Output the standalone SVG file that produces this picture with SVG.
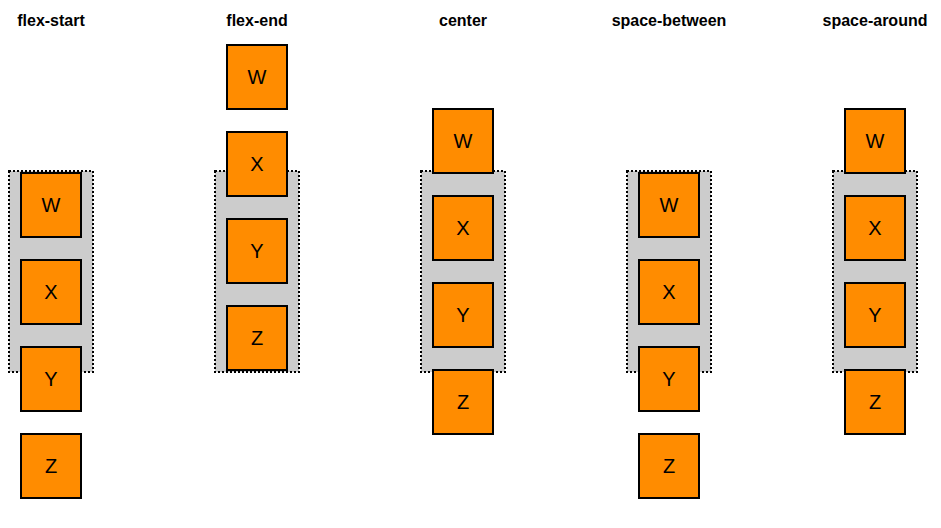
<svg xmlns="http://www.w3.org/2000/svg" width="941" height="528" viewBox="0 0 941 528">
<style>
.title{font-family:"Liberation Sans",Arial,sans-serif;font-size:16px;font-weight:bold;fill:#000;text-anchor:middle}
.cont{fill:#cccccc;stroke:#000;stroke-width:2;stroke-dasharray:2,2}
.box{fill:#ff8c00;stroke:#000;stroke-width:2}
.lbl{font-family:"Liberation Sans",Arial,sans-serif;font-size:20px;fill:#000;text-anchor:middle}
</style>
<rect width="941" height="528" fill="#fff"/>
<g id="connectors"></g>
<g id="col-flex-start">
<text class="title" x="51" y="26">flex-start</text>
<rect class="cont" x="9" y="171" width="84" height="201"/>
<g id="fs-W"><rect class="box" x="21" y="173" width="60" height="64"/><text class="lbl" x="51" y="212">W</text></g>
<g id="fs-X"><rect class="box" x="21" y="260" width="60" height="64"/><text class="lbl" x="51" y="299">X</text></g>
<g id="fs-Y"><rect class="box" x="21" y="347" width="60" height="64"/><text class="lbl" x="51" y="386">Y</text></g>
<g id="fs-Z"><rect class="box" x="21" y="434" width="60" height="64"/><text class="lbl" x="51" y="473">Z</text></g>
</g>
<g id="col-flex-end">
<text class="title" x="257" y="26">flex-end</text>
<rect class="cont" x="215" y="171" width="84" height="201"/>
<g id="fe-W"><rect class="box" x="227" y="45" width="60" height="64"/><text class="lbl" x="257" y="84">W</text></g>
<g id="fe-X"><rect class="box" x="227" y="132" width="60" height="64"/><text class="lbl" x="257" y="171">X</text></g>
<g id="fe-Y"><rect class="box" x="227" y="219" width="60" height="64"/><text class="lbl" x="257" y="258">Y</text></g>
<g id="fe-Z"><rect class="box" x="227" y="306" width="60" height="64"/><text class="lbl" x="257" y="345">Z</text></g>
</g>
<g id="col-center">
<text class="title" x="463" y="26">center</text>
<rect class="cont" x="421" y="171" width="84" height="201"/>
<g id="c-W"><rect class="box" x="433" y="109" width="60" height="64"/><text class="lbl" x="463" y="148">W</text></g>
<g id="c-X"><rect class="box" x="433" y="196" width="60" height="64"/><text class="lbl" x="463" y="235">X</text></g>
<g id="c-Y"><rect class="box" x="433" y="283" width="60" height="64"/><text class="lbl" x="463" y="322">Y</text></g>
<g id="c-Z"><rect class="box" x="433" y="370" width="60" height="64"/><text class="lbl" x="463" y="409">Z</text></g>
</g>
<g id="col-space-between">
<text class="title" x="669" y="26">space-between</text>
<rect class="cont" x="627" y="171" width="84" height="201"/>
<g id="sb-W"><rect class="box" x="639" y="173" width="60" height="64"/><text class="lbl" x="669" y="212">W</text></g>
<g id="sb-X"><rect class="box" x="639" y="260" width="60" height="64"/><text class="lbl" x="669" y="299">X</text></g>
<g id="sb-Y"><rect class="box" x="639" y="347" width="60" height="64"/><text class="lbl" x="669" y="386">Y</text></g>
<g id="sb-Z"><rect class="box" x="639" y="434" width="60" height="64"/><text class="lbl" x="669" y="473">Z</text></g>
</g>
<g id="col-space-around">
<text class="title" x="875" y="26">space-around</text>
<rect class="cont" x="833" y="171" width="84" height="201"/>
<g id="sa-W"><rect class="box" x="845" y="109" width="60" height="64"/><text class="lbl" x="875" y="148">W</text></g>
<g id="sa-X"><rect class="box" x="845" y="196" width="60" height="64"/><text class="lbl" x="875" y="235">X</text></g>
<g id="sa-Y"><rect class="box" x="845" y="283" width="60" height="64"/><text class="lbl" x="875" y="322">Y</text></g>
<g id="sa-Z"><rect class="box" x="845" y="370" width="60" height="64"/><text class="lbl" x="875" y="409">Z</text></g>
</g>
</svg>
